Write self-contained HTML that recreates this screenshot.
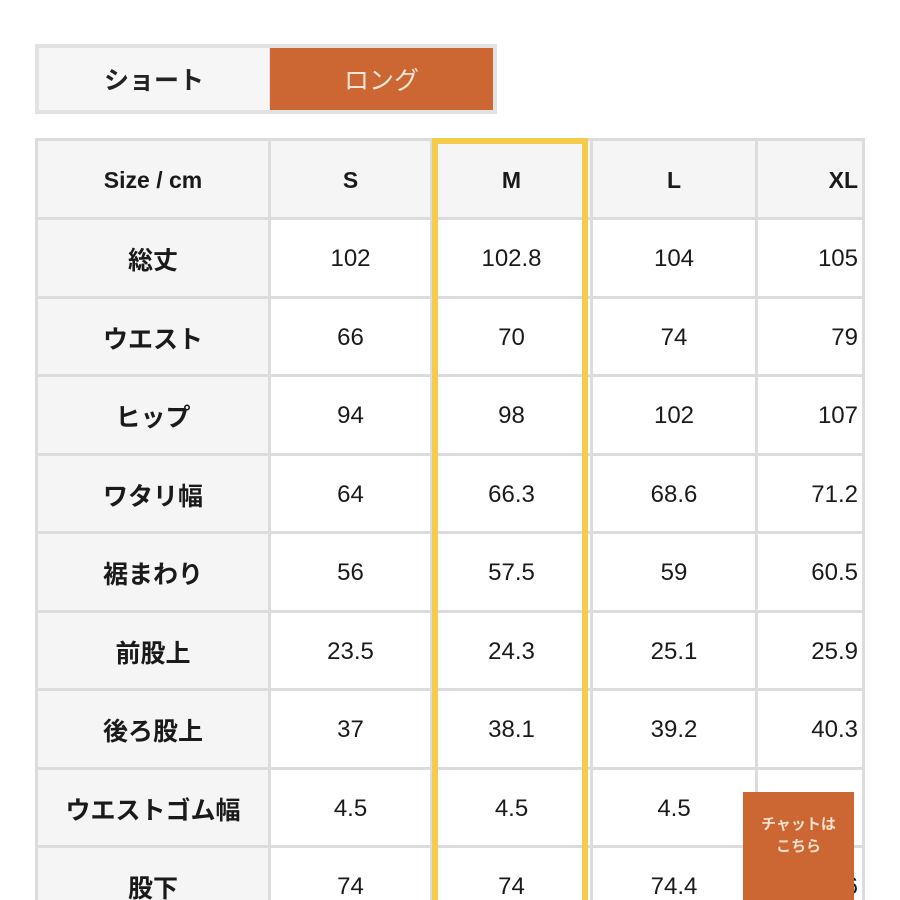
<!DOCTYPE html>
<html><head><meta charset="utf-8"><style>
html,body{margin:0;width:900px;height:900px;overflow:hidden}
body{background:#fff;position:relative;font-family:"Liberation Sans","Noto Sans CJK JP",sans-serif;color:#1a1a1a}
.a{position:absolute;display:flex;align-items:center;justify-content:center;box-sizing:border-box}
</style></head><body>
<div class="a" style="left:35px;top:44px;width:462px;height:70px;background:#e2e2e2"></div>
<div class="a" style="left:39px;top:48px;width:230px;height:62px;background:#f6f6f6;font-size:25px;font-weight:bold;color:#222">ショート</div>
<div class="a" style="left:270px;top:48px;width:223px;height:62px;background:#cc6633;color:#fbe7d8;font-size:25px">ロング</div>
<div style="position:absolute;left:35px;top:138px;width:830px;height:762px;background:#dcdcdc"></div>
<div id="g"></div>
<div class="a" style="left:432px;top:138px;width:156px;height:780px;border:6px solid #f2cc4a;border-bottom:none"></div>
<div class="a" style="left:743px;top:792px;width:111px;height:108px;background:#cc6633;color:#fbe0cc;font-size:15px;font-weight:bold;flex-direction:column;line-height:22px;padding-bottom:20px;text-align:center">チャットは<br>こちら</div>
<script>
var cols=[[38,268],[271,430],[433,590],[593,755],[758,862]];
var rows=[[141,217],[220,296],[299,374],[377,453],[456,531],[534,610],[613,688],[691,767],[770,845],[848,900]];
var d=[["Size / cm","S","M","L","XL"],["総丈","102","102.8","104","105"],["ウエスト","66","70","74","79"],["ヒップ","94","98","102","107"],["ワタリ幅","64","66.3","68.6","71.2"],["裾まわり","56","57.5","59","60.5"],["前股上","23.5","24.3","25.1","25.9"],["後ろ股上","37","38.1","39.2","40.3"],["ウエストゴム幅","4.5","4.5","4.5",""],["股下","74","74","74.4","76"]];
var h="";
for(var r=0;r<rows.length;r++)for(var c=0;c<5;c++){
var hd=r==0||c==0;
var hh=(r==9?76:rows[r][1]-rows[r][0]);
var st="left:"+cols[c][0]+"px;top:"+rows[r][0]+"px;width:"+(cols[c][1]-cols[c][0])+"px;height:"+hh+"px;background:"+(hd?"#f5f5f5":"#fff")+";font-size:"+(hd?(c==0&&r>0?"25px":"23px"):"24px")+";font-weight:"+(hd?"bold":"normal")+";"+(c==4?"justify-content:flex-end;padding-right:4px;":"")+"padding-top:2px";
h+='<div class="a" style="'+st+'">'+d[r][c]+'</div>';}
document.getElementById("g").innerHTML=h;
</script>
</body></html>
